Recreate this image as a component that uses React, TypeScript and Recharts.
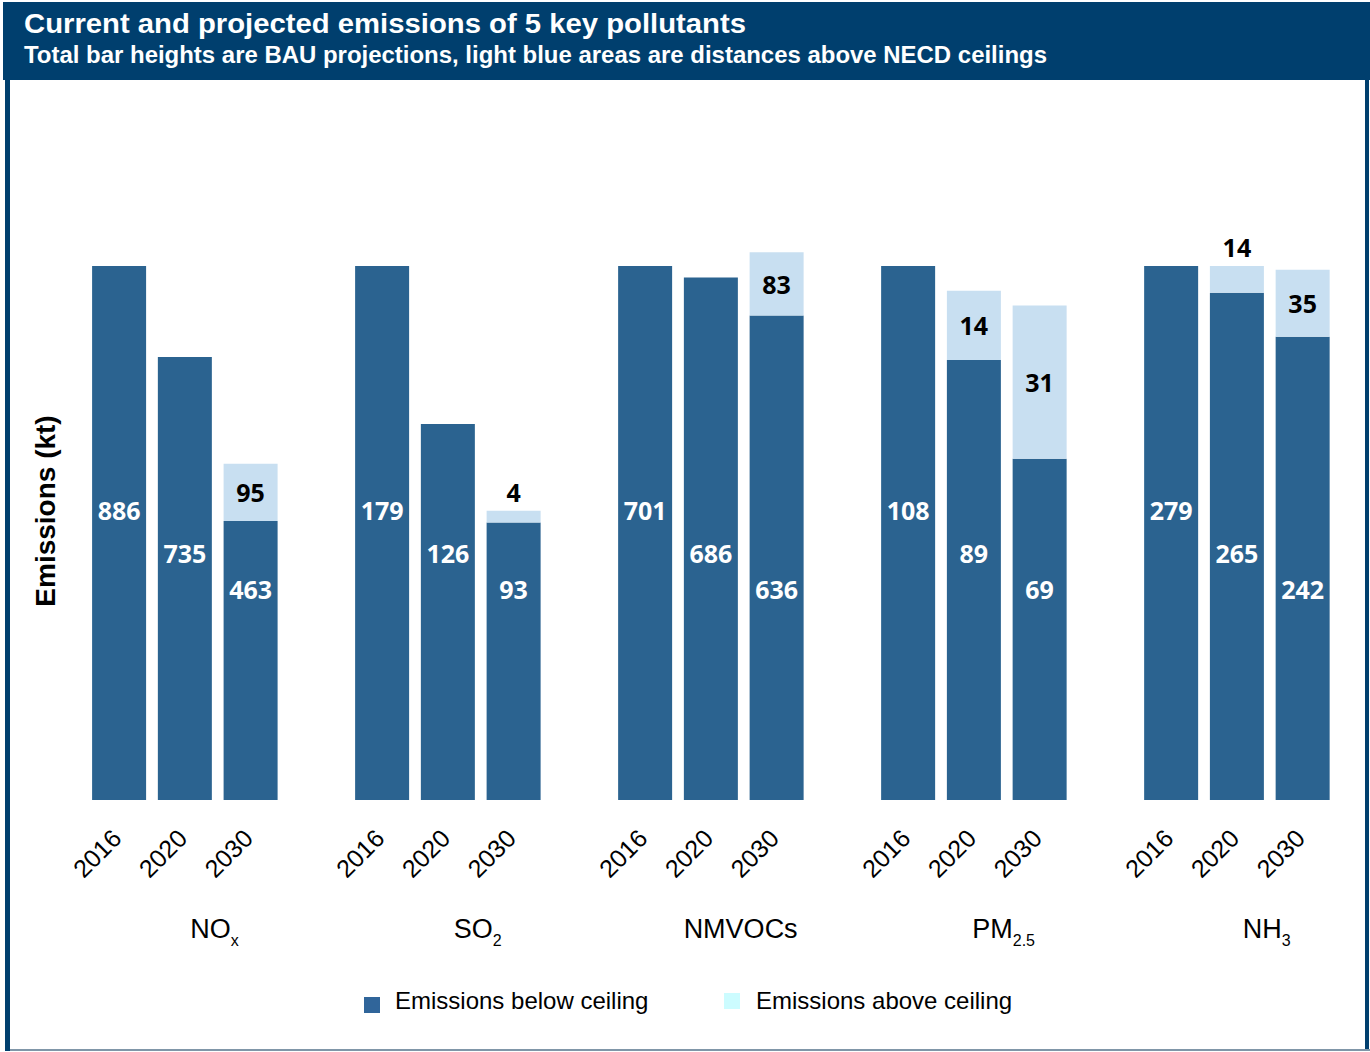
import { Bar, BarChart, LabelList, XAxis, YAxis } from 'recharts';

const YEARS = ['2016', '2020', '2030'];
const POLLUTANT_NAMES = ['NO', 'SO', 'NMVOCs', 'PM', 'NH'];
const POLLUTANT_SUBS = ['x', '2', '', '2.5', '3'];

// kt, below / above NECD ceiling
const BELOW_2016 = [886, 179, 701, 108, 279];
const BELOW_2020 = [735, 126, 686, 89, 265];
const BELOW_2030 = [463, 93, 636, 69, 242];
const ABOVE_2016 = [0, 0, 0, 0, 0];
const ABOVE_2020 = [0, 0, 0, 14, 14];
const ABOVE_2030 = [95, 4, 83, 31, 35];

const LEGEND_LABELS = ['Emissions below ceiling', 'Emissions above ceiling'];

const DARK = '#2b6390';
const LIGHT = '#c8dff1';
const NAVY = '#003f6e';
const FONT = '"Liberation Sans", Arial, sans-serif';
const LABEL_FONT = '"Open Sans", "DejaVu Sans", sans-serif';

const BELOWS = [BELOW_2016, BELOW_2020, BELOW_2030];
const ABOVES = [ABOVE_2016, ABOVE_2020, ABOVE_2030];

type Row = {
  slot: string;
  year: string;
  g: number;
  below: number | null;
  above: number | null;
  belowKt: number | null;
  aboveKt: number | null;
};

// each group is indexed to its own 2016 total, a spacer slot sits between groups
const rows: Row[] = [];
POLLUTANT_NAMES.forEach((_, g) => {
  const base = BELOW_2016[g] + ABOVE_2016[g];
  YEARS.forEach((year, i) => {
    const b = BELOWS[i][g];
    const a = ABOVES[i][g];
    rows.push({
      slot: `${g}-${year}`,
      year,
      g,
      below: (b / base) * 100,
      above: a > 0 ? (a / base) * 100 : null,
      belowKt: b,
      aboveKt: a > 0 ? a : null,
    });
  });
  if (g < POLLUTANT_NAMES.length - 1) {
    rows.push({ slot: `gap-${g}`, year: '', g, below: null, above: null, belowKt: null, aboveKt: null });
  }
});

// distance of the white labels above the bar base, per year
const BELOW_LABEL_LIFT: Record<string, number> = { '2016': 290, '2020': 247, '2030': 211 };

function YearTick(props: any) {
  const { x, y, payload } = props;
  const row = rows[payload.index];
  if (!row || !row.year) return null;
  const half = payload.offset ?? 33;
  return (
    <g>
      <text
        x={x + 4}
        y={y + 40}
        transform={`rotate(-45, ${x + 4}, ${y + 40})`}
        textAnchor="end"
        fontFamily={FONT}
        fontSize={25}
        fill="#000"
      >
        {row.year}
      </text>
      {row.year === '2020' && (
        <text x={x + half - 3} y={y + 138} textAnchor="middle" fontFamily={FONT} fontSize={27} fill="#000">
          <tspan>{POLLUTANT_NAMES[row.g]}</tspan>
          {POLLUTANT_SUBS[row.g] && (
            <tspan dy={8} fontSize={16}>
              {POLLUTANT_SUBS[row.g]}
            </tspan>
          )}
        </text>
      )}
    </g>
  );
}

function BelowLabel(props: any) {
  const { x, y, width, height, value } = props;
  if (value == null) return null;
  const [year, kt] = String(value).split(':');
  const bottom = y + height;
  return (
    <text
      x={x + width / 2}
      y={bottom - (BELOW_LABEL_LIFT[year] ?? height / 2)}
      textAnchor="middle"
      dominantBaseline="central"
      fontFamily={LABEL_FONT}
      fontWeight={700}
      fontSize={25}
      fill="#fff"
    >
      {kt}
    </text>
  );
}

function AboveLabel(props: any) {
  const { x, y, width, height, value } = props;
  if (value == null) return null;
  const cy = height >= 30 ? y + height / 2 : y - 19;
  return (
    <text
      x={x + width / 2}
      y={cy}
      textAnchor="middle"
      dominantBaseline="central"
      fontFamily={LABEL_FONT}
      fontWeight={700}
      fontSize={25}
      fill="#000"
    >
      {value}
    </text>
  );
}

const belowLabelKey = (r: Row) => (r.belowKt == null ? null : `${r.year}:${r.belowKt}`);

export default function App() {
  return (
    <div style={{ position: 'absolute', left: 0, top: 0, width: 1370, height: 1052, background: '#fff' }}>
      <svg width={1370} height={1052} style={{ position: 'absolute', left: 0, top: 0 }}>
        <rect x={3} y={2} width={1367} height={78} fill={NAVY} />
        <rect x={5} y={80} width={5} height={971} fill={NAVY} />
        <rect x={1365} y={80} width={4} height={971} fill={NAVY} />
        <rect x={10} y={1049} width={1360} height={2} fill="#8096a8" />
        <text
          x={24}
          y={33}
          fontFamily={FONT}
          fontWeight={700}
          fontSize={28}
          textLength={722}
          lengthAdjust="spacingAndGlyphs"
          fill="#fff"
        >
          Current and projected emissions of 5 key pollutants
        </text>
        <text
          x={24}
          y={63}
          fontFamily={FONT}
          fontWeight={700}
          fontSize={23}
          textLength={1023}
          lengthAdjust="spacingAndGlyphs"
          fill="#fff"
        >
          Total bar heights are BAU projections, light blue areas are distances above NECD ceilings
        </text>
        <text
          x={55}
          y={511}
          transform="rotate(-90, 55, 511)"
          textAnchor="middle"
          fontFamily={FONT}
          fontWeight={700}
          fontSize={28}
          fill="#000"
        >
          Emissions (kt)
        </text>
        <rect x={364} y={997} width={16} height={16} fill="#30659a" />
        <text x={395} y={1009} fontFamily={FONT} fontSize={24} fill="#000">
          {LEGEND_LABELS[0]}
        </text>
        <rect x={724} y={993} width={16} height={16} fill="#ccfcff" />
        <text x={756} y={1009} fontFamily={FONT} fontSize={24} fill="#000">
          {LEGEND_LABELS[1]}
        </text>
      </svg>
      <div style={{ position: 'absolute', left: 0, top: 80 }}>
        <BarChart
          width={1365}
          height={972}
          data={rows}
          margin={{ top: 132.6, right: 29.6, bottom: 102, left: 86.1 }}
          barSize={54}
        >
          <XAxis
            dataKey="slot"
            interval={0}
            height={150}
            axisLine={false}
            tickLine={false}
            tickSize={0}
            tickMargin={0}
            tick={<YearTick />}
          />
          <YAxis hide domain={[0, 110]} allowDataOverflow />
          <Bar dataKey="below" stackId="a" fill={DARK} isAnimationActive={false}>
            <LabelList dataKey={belowLabelKey} content={<BelowLabel />} />
          </Bar>
          <Bar dataKey="above" stackId="a" fill={LIGHT} isAnimationActive={false}>
            <LabelList dataKey="aboveKt" content={<AboveLabel />} />
          </Bar>
        </BarChart>
      </div>
    </div>
  );
}
